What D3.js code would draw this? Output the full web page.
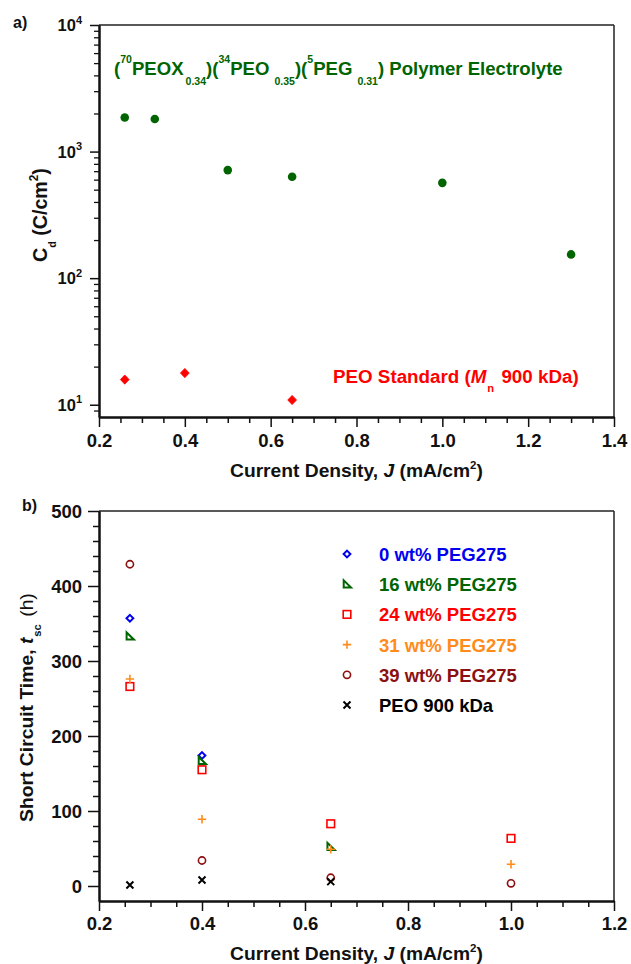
<!DOCTYPE html>
<html><head><meta charset="utf-8">
<script src="https://cdn.jsdelivr.net/npm/d3@7"></script>
<style>
body{margin:0;background:#fff}
svg{display:block}
text{font-family:"Liberation Sans",Arial,Helvetica,sans-serif;}
</style>
</head><body>
<svg id="c" width="631" height="964"></svg>
<script>
// ---------- data (panel a) ----------
const polyJ  = [0.26, 0.33, 0.50, 0.65, 1.00, 1.30];
const polyCd = [1860, 1810, 714, 632, 566, 154];
const peoJ   = [0.26, 0.40, 0.65];
const peoCd  = [15.8, 17.8, 10.9];
const aXTicks = [0.2, 0.4, 0.6, 0.8, 1.0, 1.2, 1.4];
const aYTicks = [10, 100, 1000, 10000];
const aYExp   = ["1", "2", "3", "4"];

// ---------- data (panel b) ----------
const scJ   = [0.26, 0.40, 0.65, 1.00];
const sc0   = [357, 174, null, null];
const sc16  = [333, 167, 52.5, null];
const sc24  = [266, 155, 83, 63.5];
const sc31  = [276, 89, 49, 29];
const sc39  = [429, 34, 11, 3.6];
const scPEO = [1.3, 8, 5.8, null];
const seriesNames  = ["0 wt% PEG275", "16 wt% PEG275", "24 wt% PEG275", "31 wt% PEG275", "39 wt% PEG275", "PEO 900 kDa"];
const seriesValues = [sc0, sc16, sc24, sc31, sc39, scPEO];
const seriesColors = ["#0000ee", "#006400", "#ff0000", "#ff8c1a", "#8b1010", "#000000"];
const seriesShapes = ["diamond", "triangle", "square", "plus", "circle", "cross"];
const bXTicks = [0.2, 0.4, 0.6, 0.8, 1.0, 1.2];
const bYTicks = [0, 100, 200, 300, 400, 500];

const svg = d3.select("#c");

function rich(parent, segs, size, color, x, y) {
  const t = parent.append("text").attr("x", x).attr("y", y)
    .attr("font-size", size).attr("font-weight", "bold").attr("fill", color);
  let cur = 0;
  segs.forEach(s => {
    const ts = t.append("tspan").text(s.t);
    let off = 0;
    if (s.sup) off = -s.sup;
    if (s.sub) off = s.sub;
    ts.attr("dy", off - cur);
    cur = off;
    if (s.size) ts.attr("font-size", s.size);
    if (s.it) ts.attr("font-style", "italic");
    if (s.w) ts.attr("font-weight", s.w);
    if (s.dx) ts.attr("dx", s.dx);
  });
  return t;
}
function fit(t, x0, x1) {
  const b = t.node().getBBox();
  const k = (x1 - x0) / b.width;
  t.attr("transform", `translate(${x0},0) scale(${k},1) translate(${-b.x},0)`);
}
function marker(g, shape, color, cx, cy) {
  if (shape === "diamond") {
    g.append("path").attr("d", `M${cx},${cy-3.4}L${cx+3.4},${cy}L${cx},${cy+3.4}L${cx-3.4},${cy}Z`)
      .attr("fill", "none").attr("stroke", color).attr("stroke-width", 2);
  } else if (shape === "triangle") {
    g.append("path").attr("d", `M${cx-3.3},${cy-3.8}L${cx-3.3},${cy+3.3}L${cx+4},${cy+3.3}Z`)
      .attr("fill", "none").attr("stroke", color).attr("stroke-width", 2).attr("stroke-linejoin", "miter");
  } else if (shape === "square") {
    g.append("rect").attr("x", cx-3.8).attr("y", cy-3.8).attr("width", 7.6).attr("height", 7.6)
      .attr("fill", "none").attr("stroke", color).attr("stroke-width", 1.6);
  } else if (shape === "plus") {
    g.append("path").attr("d", `M${cx-4.2},${cy}H${cx+4.2}M${cx},${cy-4.2}V${cy+4.2}`)
      .attr("stroke", color).attr("stroke-width", 1.6);
  } else if (shape === "circle") {
    g.append("circle").attr("cx", cx).attr("cy", cy).attr("r", 3.6)
      .attr("fill", "none").attr("stroke", color).attr("stroke-width", 1.6);
  } else if (shape === "cross") {
    g.append("path").attr("d", `M${cx-3.5},${cy-3.5}L${cx+3.5},${cy+3.5}M${cx-3.5},${cy+3.5}L${cx+3.5},${cy-3.5}`)
      .attr("stroke", color).attr("stroke-width", 2);
  }
}
function frame(g, L, R, T, B) {
  g.append("line").attr("x1", L).attr("x2", R).attr("y1", T).attr("y2", T).attr("stroke", "#222").attr("stroke-width", 1.5);
  g.append("line").attr("x1", R).attr("x2", R).attr("y1", T).attr("y2", B).attr("stroke", "#222").attr("stroke-width", 1.5);
}
function styleAxis(a, w) {
  a.select(".domain").attr("stroke", "#111").attr("stroke-width", w);
  a.selectAll(".tick line").attr("stroke", "#111").attr("stroke-width", 1.5);
}
const r2 = v => Math.round(v * 1000) / 1000;

// ================= Panel a =================
const ax = d3.scaleLinear().domain([0.2, 1.4]).range([99, 614]);
const ay = d3.scaleLog().domain([8, 10000]).range([417, 25]);
const ga = svg.append("g");
frame(ga, 99, 614, 25, 417);

const aXMinor = d3.range(0, 25).map(i => r2(0.2 + i * 0.05)).filter(v => v <= 1.4 && !aXTicks.some(t => Math.abs(t - v) < 1e-6));
const axB = ga.append("g").attr("transform", "translate(0,417)");
axB.call(d3.axisBottom(ax).tickValues(aXMinor).tickSize(6).tickFormat("").tickSizeOuter(0));
const axB2 = ga.append("g").attr("transform", "translate(0,417)");
axB2.call(d3.axisBottom(ax).tickValues(aXTicks).tickSize(10).tickSizeOuter(0).tickFormat(d3.format(".1f")));
[axB, axB2].forEach(a => styleAxis(a, 2));
axB2.selectAll(".tick text").attr("font-size", 18.5).attr("font-weight", "bold").attr("fill", "#111")
  .attr("font-family", "Liberation Sans, Arial, sans-serif").attr("dy", null).attr("y", 30);

const aYMinor = [9];
[10, 100, 1000].forEach(d => { for (let m = 2; m <= 9; m++) aYMinor.push(d * m); });
const ayL = ga.append("g").attr("transform", "translate(99,0)");
ayL.call(d3.axisLeft(ay).tickValues(aYMinor).tickSize(5).tickFormat("").tickSizeOuter(0));
const ayL2 = ga.append("g").attr("transform", "translate(99,0)");
ayL2.call(d3.axisLeft(ay).tickValues(aYTicks).tickSize(9).tickFormat("").tickSizeOuter(0));
[ayL, ayL2].forEach(a => styleAxis(a, 2));
ayL.selectAll("line").attr("stroke-width", 1.3);
aYTicks.forEach((v, i) => {
  const t = ga.append("text").attr("x", 82).attr("y", ay(v) + 6).attr("text-anchor", "end")
    .attr("font-size", 16.5).attr("font-weight", "bold").attr("fill", "#111");
  t.append("tspan").text("10");
  t.append("tspan").text(aYExp[i]).attr("font-size", 11).attr("dy", -7.5);
});

// points
ga.selectAll("circle.poly").data(polyJ).join("circle").attr("class", "poly")
  .attr("cx", d => ax(d)).attr("cy", (d, i) => ay(polyCd[i])).attr("r", 4.3).attr("fill", "#006400");
ga.selectAll("path.peo").data(peoJ).join("path").attr("class", "peo")
  .attr("d", "M0,-4.6L4.4,0L0,4.6L-4.4,0Z")
  .attr("transform", (d, i) => `translate(${ax(d)},${ay(peoCd[i])})`)
  .attr("fill", "#ff0000").attr("stroke", "#ff0000").attr("stroke-width", 0.8).attr("stroke-linejoin", "round");

// annotations
const ann1 = rich(ga, [
  {t: "("}, {t: "70", sup: 12, size: 10.5}, {t: "PEOX"}, {t: "0.34", sub: 10, size: 10.5, dx: 2},
  {t: ")("}, {t: "34", sup: 12, size: 10.5}, {t: "PEO"}, {t: "0.35", sub: 10, size: 10.5, dx: 5},
  {t: ")("}, {t: "5", sup: 12, size: 10.5}, {t: "PEG"}, {t: "0.31", sub: 10, size: 10.5, dx: 5},
  {t: ") Polymer Electrolyte"}
], 18.5, "#006400", 0, 75);
fit(ann1, 114, 563);

const ann2 = rich(ga, [
  {t: "PEO Standard ("}, {t: "M", it: true}, {t: "n", sub: 9, size: 11, dx: 1}, {t: " 900 kDa)", dx: 2}
], 18.5, "#ff0000", 0, 383);
fit(ann2, 333, 579);

ga.append("text").attr("x", 13).attr("y", 28).attr("font-size", 16).attr("font-weight", "bold").attr("fill", "#111").text("a)");

const aXT = rich(ga, [
  {t: "Current Density,  "}, {t: "J", it: true}, {t: " (mA/cm"}, {t: "2", sup: 8, size: 11}, {t: ")"}
], 18.5, "#111", 0, 477);
fit(aXT, 230, 483);

const aYG = ga.append("g").attr("transform", "translate(47,262) rotate(-90)");
const aYT = rich(aYG, [
  {t: "C"}, {t: "d", sub: 9, size: 11}, {t: " (C/cm"}, {t: "2", sup: 9, size: 12}, {t: ")"}
], 20, "#111", 0, 0);
fit(aYT, 0, 94);

// ================= Panel b =================
const bx = d3.scaleLinear().domain([0.2, 1.2]).range([99, 614]);
const by = d3.scaleLinear().domain([-20, 500]).range([901, 511]);
const gb = svg.append("g");
frame(gb, 99, 614, 511, 901);

const bXMinor = d3.range(0, 21).map(i => r2(0.2 + i * 0.05)).filter(v => v <= 1.2 && !bXTicks.some(t => Math.abs(t - v) < 1e-6));
const bxB = gb.append("g").attr("transform", "translate(0,901)");
bxB.call(d3.axisBottom(bx).tickValues(bXMinor).tickSize(6).tickFormat("").tickSizeOuter(0));
const bxB2 = gb.append("g").attr("transform", "translate(0,901)");
bxB2.call(d3.axisBottom(bx).tickValues(bXTicks).tickSize(10).tickSizeOuter(0).tickFormat(d3.format(".1f")));
[bxB, bxB2].forEach(a => styleAxis(a, 2));
bxB2.selectAll(".tick text").attr("font-size", 18.5).attr("font-weight", "bold").attr("fill", "#111")
  .attr("font-family", "Liberation Sans, Arial, sans-serif").attr("dy", null).attr("y", 29);

const bYMinor = d3.range(-20, 501, 20).filter(v => v % 100 !== 0 && v > -20);
const byL = gb.append("g").attr("transform", "translate(99,0)");
byL.call(d3.axisLeft(by).tickValues(bYMinor).tickSize(6).tickFormat("").tickSizeOuter(0));
const byL2 = gb.append("g").attr("transform", "translate(99,0)");
byL2.call(d3.axisLeft(by).tickValues(bYTicks).tickSize(11).tickSizeOuter(0).tickFormat(d3.format("d")));
[byL, byL2].forEach(a => styleAxis(a, 2));
byL2.selectAll(".tick text").attr("font-size", 18.5).attr("font-weight", "bold").attr("fill", "#111")
  .attr("font-family", "Liberation Sans, Arial, sans-serif").attr("x", -17).attr("dy", "0.36em");

// points
seriesValues.forEach((vals, si) => {
  const g = gb.append("g");
  vals.forEach((v, j) => {
    if (v === null) return;
    marker(g, seriesShapes[si], seriesColors[si], bx(scJ[j]), by(v));
  });
});

// legend
seriesNames.forEach((n, i) => {
  const yy = 554 + i * 30.2;
  marker(gb, seriesShapes[i], seriesColors[i], 347, yy);
  gb.append("text").attr("x", 379).attr("y", yy + 7).attr("font-size", 18.5).attr("font-weight", "bold")
    .attr("fill", seriesColors[i]).text(n);
});

gb.append("text").attr("x", 22).attr("y", 511).attr("font-size", 16).attr("font-weight", "bold").attr("fill", "#111").text("b)");

const bXT = rich(gb, [
  {t: "Current Density,  "}, {t: "J", it: true}, {t: " (mA/cm"}, {t: "2", sup: 8, size: 11}, {t: ")"}
], 18.5, "#111", 0, 960);
fit(bXT, 230, 483);

const bYG = gb.append("g").attr("transform", "translate(33,822) rotate(-90)");
const bYT = rich(bYG, [
  {t: "Short Circuit Time, "}, {t: "t", it: true}, {t: "sc", sub: 8, size: 11, dx: 1}, {t: "   (h)", w: "normal", dx: 2}
], 19, "#111", 0, 0);
fit(bYT, 0, 229);
</script>
</body></html>
